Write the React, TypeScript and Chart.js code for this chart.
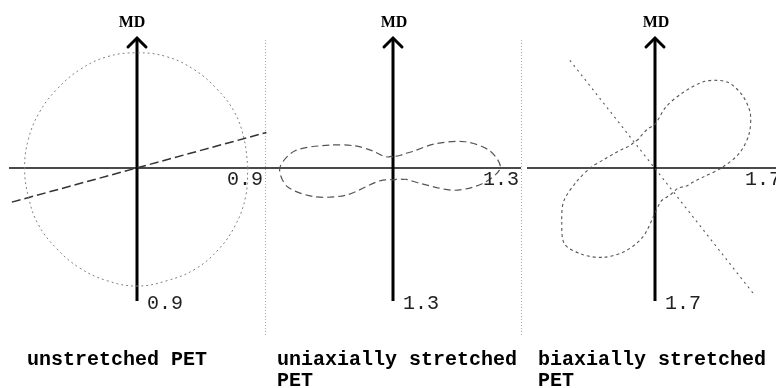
import React, { useEffect, useRef } from "react";
import { Chart, registerables } from "chart.js";

Chart.register(...registerables);

// ---------- data ----------
const axisName = "MD";
const axisLabels = [0.9, 1.3, 1.7];
const captions = [["unstretched PET"], ["uniaxially stretched", "PET"], ["biaxially stretched", "PET"]];

// unstretched PET: polar curve, angle (deg, CCW from +x) and radius
const circleAngles = [0, 15, 30, 45, 60, 75, 90, 105, 120, 135, 150, 165, 180, 195, 210, 225, 240, 255, 270, 285, 300, 315, 330, 345];
const unstretchedR = [0.78, 0.78, 0.79, 0.79, 0.8, 0.81, 0.81, 0.81, 0.8, 0.79, 0.79, 0.79, 0.79, 0.79, 0.8, 0.8, 0.81, 0.82, 0.83, 0.82, 0.82, 0.81, 0.8, 0.79];
const unstretchedLineX = [-0.88, 0.91];
const unstretchedLineY = [-0.24, 0.25];

// stretched PET: polar curves at 10 degree steps
const lobeAngles = [0, 10, 20, 30, 40, 50, 60, 70, 80, 90, 100, 110, 120, 130, 140, 150, 160, 170, 180, 190, 200, 210, 220, 230, 240, 250, 260, 270, 280, 290, 300, 310, 320, 330, 340, 350];
const uniaxialR = [1.09, 1.0, 0.78, 0.49, 0.26, 0.19, 0.15, 0.13, 0.12, 0.11, 0.12, 0.12, 0.13, 0.16, 0.27, 0.45, 0.68, 1.01, 1.15, 1.09, 0.85, 0.55, 0.22, 0.16, 0.14, 0.13, 0.12, 0.12, 0.12, 0.12, 0.13, 0.15, 0.18, 0.31, 0.66, 0.92];
const biaxialR = [0.88, 1.14, 1.33, 1.46, 1.51, 1.49, 1.33, 1.06, 0.82, 0.58, 0.53, 0.48, 0.44, 0.44, 0.45, 0.5, 0.57, 0.68, 0.86, 1.06, 1.29, 1.43, 1.57, 1.5, 1.37, 1.18, 0.93, 0.6, 0.45, 0.42, 0.41, 0.4, 0.41, 0.48, 0.54, 0.66];
const biaxialLineX = [-1.13, 1.3];
const biaxialLineY = [1.43, -1.66];

// ---------- layout / style ----------
const W = 776;
const H = 388;
const CY = 168;
const HALF = 128;
const TOP = 37;
const BOTTOM = 299;
const centersX = [137, 393, 655];
const mdOffsets = [-5, 1, 1];
const captionXs = [27, 277, 538];

// closed polar loop, started at index `start` so the spline seam falls on a quiet part of the curve
const toXY = (angles: number[], r: number[], start = 0) => {
  const n = angles.length;
  const pts = [];
  for (let k = 0; k <= n; k++) {
    const i = (start + k) % n;
    const a = (angles[i] * Math.PI) / 180;
    pts.push({ x: r[i] * Math.cos(a), y: r[i] * Math.sin(a) });
  }
  return pts;
};
const toLine = (xs: number[], ys: number[]) => xs.map((x, i) => ({ x, y: ys[i] }));

const panelDatasets = [
  [
    { data: toXY(circleAngles, unstretchedR), borderColor: "#808080", borderWidth: 1, borderDash: [2, 3], tension: 0.4 },
    { data: toLine(unstretchedLineX, unstretchedLineY), borderColor: "#333", borderWidth: 1.5, borderDash: [9, 4], tension: 0 },
  ],
  [{ data: toXY(lobeAngles, uniaxialR, 9), borderColor: "#555", borderWidth: 1.2, borderDash: [7, 4], tension: 0.3 }],
  [
    { data: toXY(lobeAngles, biaxialR, 12), borderColor: "#555", borderWidth: 1.1, borderDash: [3, 3], tension: 0.3 },
    { data: toLine(biaxialLineX, biaxialLineY), borderColor: "#555", borderWidth: 1.1, borderDash: [2, 4], tension: 0 },
  ],
];

function makePlugin(idx: number) {
  return {
    id: "polarAxes" + idx,
    beforeDatasetsDraw(chart: any) {
      const { ctx, chartArea, scales } = chart;
      const x0 = scales.x.getPixelForValue(0);
      const y0 = scales.y.getPixelForValue(0);
      ctx.save();
      // separator
      if (idx < 2) {
        ctx.strokeStyle = "#a8a8a8";
        ctx.lineWidth = 1;
        ctx.setLineDash([1, 2]);
        const sx = Math.round(chartArea.right) + 0.5;
        ctx.beginPath();
        ctx.moveTo(sx, 40);
        ctx.lineTo(sx, 336);
        ctx.stroke();
        ctx.setLineDash([]);
      }
      // horizontal axis
      ctx.strokeStyle = "#4a4a4a";
      ctx.lineWidth = 2;
      ctx.beginPath();
      ctx.moveTo(chartArea.left, Math.round(y0));
      ctx.lineTo(chartArea.right, Math.round(y0));
      ctx.stroke();
      // vertical arrow
      ctx.strokeStyle = "#000";
      ctx.lineWidth = 3;
      ctx.beginPath();
      ctx.moveTo(x0, chartArea.bottom + 2);
      ctx.lineTo(x0, chartArea.top + 1);
      ctx.stroke();
      ctx.lineCap = "round";
      ctx.lineJoin = "miter";
      ctx.beginPath();
      ctx.moveTo(x0 - 9, chartArea.top + 10);
      ctx.lineTo(x0, chartArea.top + 1);
      ctx.lineTo(x0 + 9, chartArea.top + 10);
      ctx.stroke();
      ctx.restore();
    },
    afterDraw(chart: any) {
      const { ctx, chartArea, scales } = chart;
      const x0 = scales.x.getPixelForValue(0);
      const y0 = scales.y.getPixelForValue(0);
      const lab = axisLabels[idx];
      ctx.save();
      ctx.fillStyle = "#000";
      // MD
      ctx.font = "bold 16px 'Liberation Serif'";
      ctx.textAlign = "center";
      ctx.textBaseline = "alphabetic";
      ctx.fillText(axisName, x0 + mdOffsets[idx], chartArea.top - 10);
      // axis value labels
      ctx.fillStyle = "#222";
      ctx.font = "20px 'Liberation Mono'";
      ctx.textAlign = "right";
      ctx.fillText(lab.toFixed(1), scales.x.getPixelForValue(lab) - 2, y0 + 17);
      ctx.textAlign = "left";
      ctx.fillText(lab.toFixed(1), x0 + 10, scales.y.getPixelForValue(-lab) + 13);
      // caption
      ctx.fillStyle = "#000";
      ctx.font = "bold 20px 'Liberation Mono'";
      captions[idx].forEach((line, i) => {
        ctx.fillText(line, captionXs[idx], 365 + i * 21);
      });
      ctx.restore();
    },
  };
}

function Panel({ idx }: { idx: number }) {
  const ref = useRef<HTMLCanvasElement | null>(null);
  useEffect(() => {
    if (!ref.current) return;
    const lab = axisLabels[idx];
    const ppu = HALF / lab;
    const cx = centersX[idx];
    const left = Math.max(0, cx - HALF);
    const right = Math.min(W, cx + HALF);
    const chart = new Chart(ref.current, {
      type: "scatter",
      data: {
        datasets: panelDatasets[idx].map((d) => ({
          ...d,
          showLine: true,
          pointRadius: 0,
          pointHoverRadius: 0,
          fill: false,
          clip: false as any,
        })),
      },
      options: {
        animation: false,
        responsive: false,
        maintainAspectRatio: false,
        devicePixelRatio: 1,
        events: [],
        layout: { padding: { left, right: W - right, top: TOP, bottom: H - BOTTOM } },
        scales: {
          x: { type: "linear", min: (left - cx) / ppu, max: (right - cx) / ppu, display: false },
          y: { type: "linear", min: -(BOTTOM - CY) / ppu, max: (CY - TOP) / ppu, display: false },
        },
        plugins: { legend: { display: false }, tooltip: { enabled: false }, title: { display: false } },
      },
      plugins: [makePlugin(idx)],
    } as any);
    return () => chart.destroy();
  }, [idx]);
  return <canvas ref={ref} width={W} height={H} style={{ position: "absolute", left: 0, top: 0, width: W, height: H }} />;
}

export default function App() {
  return (
    <div style={{ position: "fixed", left: 0, top: 0, width: W, height: H, overflow: "hidden", background: "#fff" }}>
      {[0, 1, 2].map((i) => (
        <Panel key={i} idx={i} />
      ))}
    </div>
  );
}
